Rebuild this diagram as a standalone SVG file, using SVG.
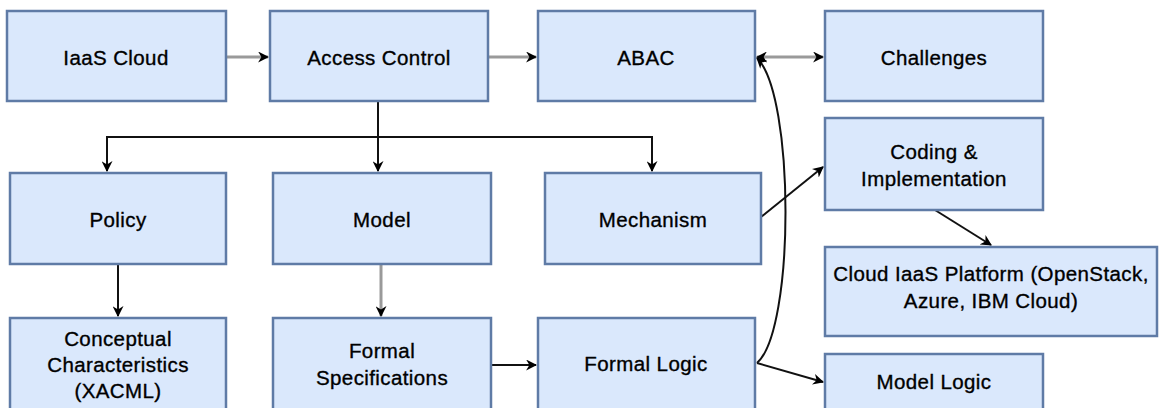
<svg xmlns="http://www.w3.org/2000/svg" width="1159" height="408" viewBox="0 0 1159 408">
  <defs>
    <style>
      .box { fill: #dae8fc; stroke: #5f7ba6; stroke-width: 2.5; }
      .lbl { font-family: "Liberation Sans", Arial, sans-serif; font-size: 20.5px; letter-spacing: 0.4px; fill: #000; stroke: #000; stroke-width: 0.35; text-anchor: middle; dominant-baseline: central; }
      .edge { fill: none; stroke: #111; stroke-width: 2; }
      .edge.light { stroke: #9a9a9a; stroke-width: 3; }
    </style>
    <marker id="arrow" viewBox="0 0 10 10" refX="9" refY="5" markerWidth="11" markerHeight="11" orient="auto-start-reverse" markerUnits="userSpaceOnUse">
      <path d="M0,0 L10,5 L0,10 L3,5 Z" fill="#000"/>
    </marker>
  </defs>
  <rect width="1159" height="408" fill="#fff"/>

  <!-- connectors -->
  <g id="connectors">
    <path class="edge light" d="M226,57 H268" marker-end="url(#arrow)"/>
    <path class="edge light" d="M488,57 H536" marker-end="url(#arrow)"/>
    <path class="edge light" d="M757,57 H823" marker-start="url(#arrow)" marker-end="url(#arrow)"/>
    <path class="edge" d="M378,101 V137 M106,137 H652"/>
    <path class="edge" d="M107,136 V171" marker-end="url(#arrow)"/>
    <path class="edge" d="M378,137 V171" marker-end="url(#arrow)"/>
    <path class="edge" d="M652,136 V171" marker-end="url(#arrow)"/>
    <path class="edge" d="M118,264 V316" marker-end="url(#arrow)"/>
    <path class="edge light" d="M381,264 V316" marker-end="url(#arrow)"/>
    <path class="edge" d="M491,365 H536" marker-end="url(#arrow)"/>
    <path class="edge" d="M761,217 L823,167" marker-end="url(#arrow)"/>
    <path class="edge" d="M935,210 L991,245" marker-end="url(#arrow)"/>
    <path class="edge" d="M757,363 L823,382" marker-end="url(#arrow)"/>
    <path class="edge" d="M757,363 C795,330 795,95 757,58" marker-end="url(#arrow)"/>
  </g>

  <g id="iaas-cloud"><rect class="box" x="7" y="11" width="219" height="90"/><text class="lbl" x="116" y="57">IaaS Cloud</text></g>
  <g id="access-control"><rect class="box" x="270" y="11" width="218" height="90"/><text class="lbl" x="379" y="57">Access Control</text></g>
  <g id="abac"><rect class="box" x="538" y="11" width="217" height="90"/><text class="lbl" x="646" y="57">ABAC</text></g>
  <g id="challenges"><rect class="box" x="825" y="11" width="218" height="90"/><text class="lbl" x="934" y="57">Challenges</text></g>

  <g id="policy"><rect class="box" x="10" y="173" width="216" height="91"/><text class="lbl" x="118" y="219">Policy</text></g>
  <g id="model"><rect class="box" x="273" y="173" width="218" height="91"/><text class="lbl" x="382" y="219">Model</text></g>
  <g id="mechanism"><rect class="box" x="545" y="173" width="216" height="91"/><text class="lbl" x="653" y="219">Mechanism</text></g>
  <g id="coding"><rect class="box" x="825" y="118" width="218" height="92"/><text class="lbl" x="934" y="151">Coding &amp;</text><text class="lbl" x="934" y="178">Implementation</text></g>
  <g id="cloud-platform"><rect class="box" x="825" y="247" width="332" height="89"/><text class="lbl" x="991" y="273">Cloud IaaS Platform (OpenStack,</text><text class="lbl" x="991" y="300">Azure, IBM Cloud)</text></g>

  <g id="conceptual"><rect class="box" x="10" y="318" width="216" height="100"/><text class="lbl" x="118" y="338">Conceptual</text><text class="lbl" x="118" y="364">Characteristics</text><text class="lbl" x="118" y="390">(XACML)</text></g>
  <g id="formal-spec"><rect class="box" x="273" y="318" width="218" height="100"/><text class="lbl" x="382" y="350">Formal</text><text class="lbl" x="382" y="377">Specifications</text></g>
  <g id="formal-logic"><rect class="box" x="538" y="318" width="217" height="100"/><text class="lbl" x="646" y="363">Formal Logic</text></g>
  <g id="model-logic"><rect class="box" x="825" y="354" width="218" height="64"/><text class="lbl" x="934" y="381">Model Logic</text></g>
</svg>
